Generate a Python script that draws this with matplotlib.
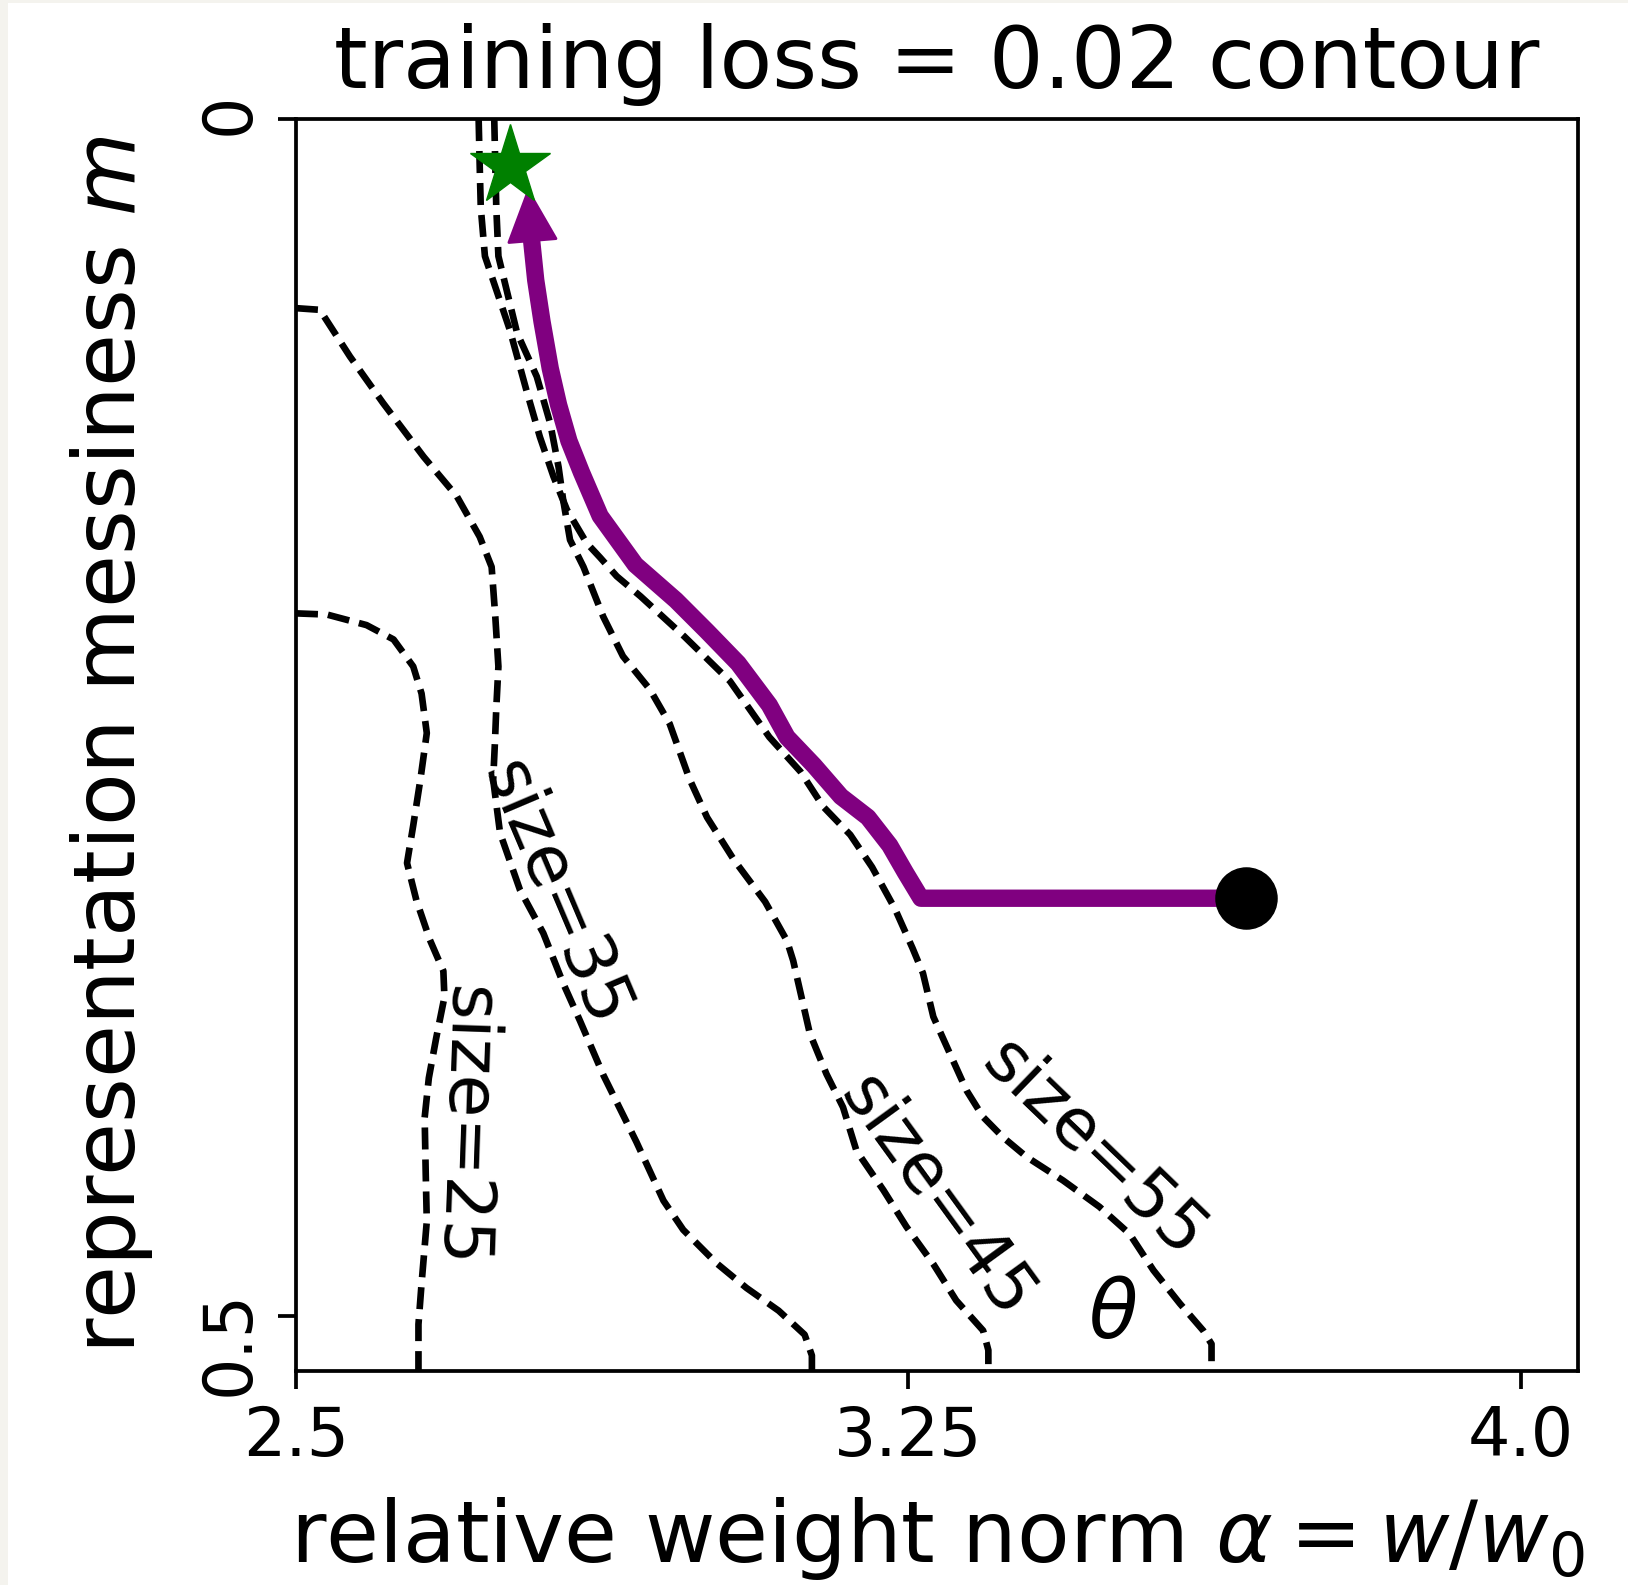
import numpy as np
import matplotlib
matplotlib.use('Agg')
import matplotlib.pyplot as plt
from matplotlib.patches import Rectangle

# loss = 0.02 contour for each training set size (alpha, m)
c25_alpha = [2.5, 2.5381, 2.5864, 2.6195, 2.6436, 2.6538, 2.6602, 2.6525, 2.6436, 2.636,
             2.6475, 2.664, 2.6805, 2.6818, 2.6716, 2.6627, 2.6576, 2.6589, 2.6602, 2.6538,
             2.65, 2.65]
c25_m = [0.2065, 0.207, 0.2114, 0.2174, 0.2287, 0.24, 0.2565, 0.2756, 0.2951, 0.3108,
         0.3264, 0.3429, 0.3559, 0.3668, 0.3841, 0.4006, 0.4171, 0.4405, 0.4605, 0.4865,
         0.5035, 0.53]

c35_alpha = [2.5, 2.5292, 2.5661, 2.6068, 2.6564, 2.697, 2.725, 2.7396, 2.7441, 2.7479,
             2.7453, 2.7437, 2.7415, 2.7499, 2.7743, 2.8029, 2.8273, 2.8478, 2.8763, 2.9169,
             2.95, 2.9742, 3.0148, 3.0517, 3.0911, 3.1229, 3.1318, 3.1318]
c35_m = [0.079, 0.0797, 0.0992, 0.1187, 0.1411, 0.1576, 0.1745, 0.1871, 0.2079, 0.2287,
         0.2461, 0.26, 0.276, 0.2982, 0.322, 0.3401, 0.3611, 0.3767, 0.3993, 0.4273,
         0.4518, 0.464, 0.4779, 0.4883, 0.4978, 0.5078, 0.5165, 0.53]

c45_alpha = [2.7428, 2.7441, 2.7453, 2.7479, 2.7708, 2.7949, 2.8114, 2.8216, 2.8273, 2.8356,
             2.8521, 2.8763, 2.9004, 2.9335, 2.9576, 2.9818, 3.0034, 3.0364, 3.0746, 3.1013,
             3.1089, 3.1292, 3.1496, 3.1699, 3.1864, 3.2195, 3.2475, 3.2805, 3.3085, 3.3415,
             3.3479, 3.3479]
c45_m = [0.0, 0.0195, 0.0369, 0.0573, 0.0894, 0.1076, 0.1272, 0.1454, 0.1593, 0.1758,
         0.1871, 0.2079, 0.2244, 0.2383, 0.2526, 0.2756, 0.2917, 0.3095, 0.327, 0.3433,
         0.3516, 0.3819, 0.3989, 0.4128, 0.431, 0.4475, 0.4627, 0.4783, 0.4935, 0.5061,
         0.5143, 0.53]

c55_alpha = [2.7237, 2.725, 2.7263, 2.7314, 2.7619, 2.7822, 2.7987, 2.8153, 2.8318, 2.8559,
             2.8725, 2.8928, 2.922, 2.9754, 3.0314, 3.0797, 3.1178, 3.1458, 3.1788, 3.2055,
             3.2335, 3.2551, 3.2678, 3.2805, 3.3008, 3.3212, 3.3415, 3.3657, 3.3949, 3.4394,
             3.4839, 3.5208, 3.55, 3.5824, 3.611, 3.6212, 3.6212]
c55_m = [0.0, 0.0195, 0.0369, 0.0573, 0.0881, 0.1133, 0.1328, 0.1493, 0.1632, 0.1771,
         0.1832, 0.191, 0.1994, 0.2161, 0.2348, 0.2582, 0.2726, 0.2873, 0.299, 0.3125,
         0.3299, 0.3464, 0.3568, 0.375, 0.3904, 0.4058, 0.4169, 0.4253, 0.4336, 0.4434,
         0.4544, 0.4657, 0.4809, 0.4948, 0.5061, 0.5117, 0.53]

sizes = [25, 35, 45, 55]
label_alpha = [2.7059, 2.8178, 3.2843, 3.4775]
label_m = [0.421, 0.3234, 0.4501, 0.4301]
label_rot = [-92, -67, -54, -44]

# training trajectory (purple), last point is the arrow tip
path_alpha = [3.6631, 3.2653, 3.2462, 3.2271, 3.2004, 3.1674, 3.1343, 3.1013, 3.0797, 3.0415,
              3.0034, 2.9653, 2.9157, 2.8725, 2.8496, 2.8343, 2.8216, 2.8114, 2.8013, 2.7936,
              2.7886, 2.7842]
path_m = [0.3255, 0.3255, 0.3147, 0.3034, 0.2917, 0.283, 0.27, 0.2582, 0.2448, 0.2274,
          0.214, 0.201, 0.1862, 0.1658, 0.1476, 0.1345, 0.1194, 0.1042, 0.0846, 0.0673,
          0.0508, 0.0286]
start_pt = (3.6631, 0.3255)
star_pt = (2.762, 0.0197)

fig = plt.figure(figsize=(16.28, 15.85), dpi=100)
fig.patch.set_facecolor('#f4f3ee')
fig.add_artist(Rectangle((8 / 1628, 0), 1, 1 - 3 / 1585, transform=fig.transFigure,
                         facecolor='white', edgecolor='none', zorder=-1))
ax = fig.add_axes([0.1818, 0.135, 0.7875, 0.7899])

contours = [(c25_alpha, c25_m), (c35_alpha, c35_m), (c45_alpha, c45_m), (c55_alpha, c55_m)]
for (a, m) in contours:
    ax.plot(a, m, color='black', lw=4.8, linestyle=(0, (3.3, 1.5)), zorder=2)

for s, a, m, r in zip(sizes, label_alpha, label_m, label_rot):
    ax.text(a, m, 'size=%d' % s, fontsize=50, rotation=r, rotation_mode='anchor',
            ha='center', va='center', zorder=3)

ax.plot(path_alpha[:-1], path_m[:-1], color='purple', lw=12.5, zorder=4)
ax.annotate('', xy=(path_alpha[-1], path_m[-1]), xytext=(path_alpha[-3], path_m[-3]),
            arrowprops=dict(arrowstyle='-|>,head_length=1.8,head_width=0.85', mutation_scale=20,
                            color='purple', lw=2, shrinkA=0, shrinkB=0), zorder=4)
ax.plot(*start_pt, 'o', color='black', ms=44, zorder=5)
ax.plot(*star_pt, '*', color='green', ms=60, zorder=6)
ax.text(3.5, 0.5, r'$\theta$', fontsize=58, ha='center', va='center')

ax.set_xlim(2.5, 4.07)
ax.set_ylim(0.523, 0)
ax.set_xticks([2.5, 3.25, 4.0])
ax.set_xticklabels(['2.5', '3.25', '4.0'])
ax.set_yticks([0, 0.5])
ax.set_yticklabels(['0', '0.5'], rotation=90)
ax.tick_params(length=13, width=2.7, labelsize=48, pad=11)
for sp in ax.spines.values():
    sp.set_linewidth(2.7)

ax.set_title('training loss = 0.02 contour', fontsize=62, pad=22)
ax.set_xlabel(r'relative weight norm $\alpha = w/w_0$', fontsize=62, labelpad=18)
ax.set_ylabel(r'representation messiness $m$', fontsize=62, labelpad=30)

fig.savefig('out.png', dpi=100, facecolor=fig.get_facecolor())
